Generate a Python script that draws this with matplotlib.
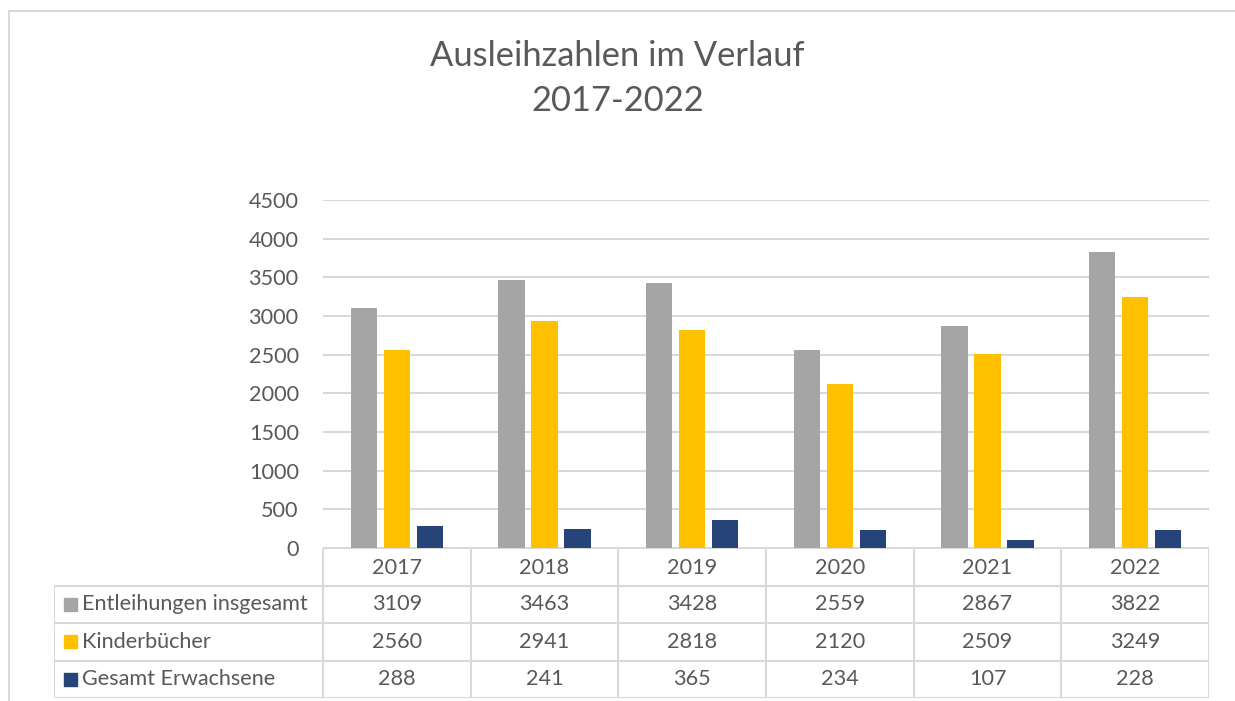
import matplotlib.pyplot as plt
import numpy as np

plt.rcParams['font.family'] = ['Lato', 'DejaVu Sans']

years = ["2017", "2018", "2019", "2020", "2021", "2022"]
series_names = ["Entleihungen insgesamt", "Kinderbücher", "Gesamt Erwachsene"]
entleihungen = [3109, 3463, 3428, 2559, 2867, 3822]
kinder = [2560, 2941, 2818, 2120, 2509, 3249]
erwachsene = [288, 241, 365, 234, 107, 228]
series = [entleihungen, kinder, erwachsene]
colors = ["#A5A5A5", "#FFC000", "#264478"]

txt = "#595959"
grid = "#D9D9D9"
W, H = 1235, 701
fs = 15.6

fig = plt.figure(figsize=(W / 100, H / 100), dpi=100)

# outer chart border (runs off right and bottom)
fig.add_artist(plt.Rectangle((8.5 / W, -0.1), 1.2, 1.1 - 10.5 / H,
                             transform=fig.transFigure, fill=False,
                             edgecolor=grid, lw=1.5))

fig.text(0.5, 1 - 56 / H, "Ausleihzahlen im Verlauf", ha="center", va="center",
         fontsize=24.8, color=txt)
fig.text(0.5, 1 - 101 / H, "2017-2022", ha="center", va="center",
         fontsize=24.8, color=txt)

# plot area
x0, x1, y0, y1 = 323, 1209, 548, 200
ax = fig.add_axes([x0 / W, 1 - y0 / H, (x1 - x0) / W, (y0 - y1) / H])
x = np.arange(len(years))
bw, step = 0.178, 0.223
for i, (vals, c) in enumerate(zip(series, colors)):
    ax.bar(x + (i - 1) * step, vals, width=bw, color=c, zorder=3)
ax.set_xlim(-0.5, len(years) - 0.5)
ax.set_ylim(0, 4500)
ax.set_yticks(np.arange(0, 4501, 500))
ax.yaxis.grid(True, color=grid, lw=1.5, zorder=0)
ax.set_xticks([])
ax.tick_params(axis="y", length=0, labelsize=fs, labelcolor=txt, pad=17.5)
for s in ax.spines.values():
    s.set_visible(False)

# data table below
tx0, ty0, ty1 = 54, 548, 698
cat_px = (x1 - x0) / len(years)
tab = fig.add_axes([tx0 / W, 1 - ty1 / H, (x1 - tx0) / W, (ty1 - ty0) / H])
left = -0.5 - (x0 - tx0) / cat_px
tab.set_xlim(left, len(years) - 0.5)
tab.set_ylim(4, 0)
tab.axis("off")
lk = dict(color=grid, lw=1.5, solid_capstyle="butt")
tab.plot([-0.5, len(years) - 0.5], [0, 0], **lk)
for r in range(1, 5):
    tab.plot([left, len(years) - 0.5], [r, r], **lk)
tab.plot([left, left], [1, 4], **lk)
for c in range(len(years) + 1):
    tab.plot([c - 0.5, c - 0.5], [0, 4], **lk)
for j, yr in enumerate(years):
    tab.text(j, 0.52, yr, ha="center", va="center", fontsize=fs, color=txt)
for i, (name, vals, c) in enumerate(zip(series_names, series, colors)):
    yc = i + 1.5
    sq = 13 / cat_px
    tab.add_patch(plt.Rectangle((left + 10 / cat_px, yc - 0.17), sq, 0.34,
                                color=c))
    tab.text(left + 28 / cat_px, yc, name, ha="left", va="center",
             fontsize=fs, color=txt)
    for j, v in enumerate(vals):
        tab.text(j, yc, str(v), ha="center", va="center", fontsize=fs, color=txt)

fig.savefig("out.png", dpi=100)
